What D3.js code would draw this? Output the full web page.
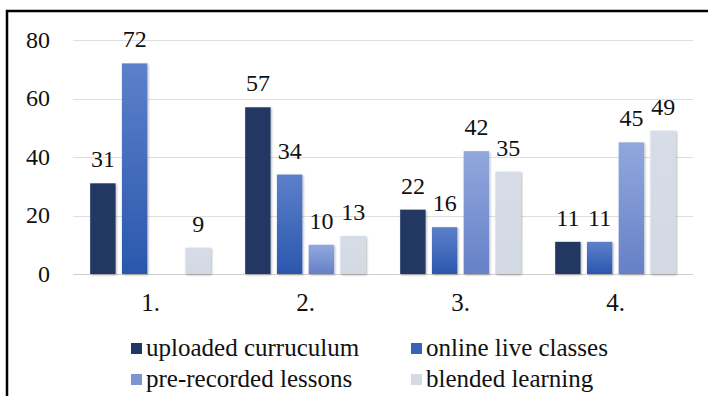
<!DOCTYPE html>
<html>
<head>
<meta charset="utf-8">
<script src="https://cdn.jsdelivr.net/npm/d3@7/dist/d3.min.js"></script>
<style>
  @font-face {
    font-family: "ChartSerif";
    src: local("Liberation Serif"), local("LiberationSerif"), local("LiberationSerif-Regular"), local("Times New Roman"), local("Tinos");
  }
</style>
</head>
<body style="margin:0;background:#fff">
<svg id="chart" width="708" height="396" style="display:block"></svg>
<script>
// Survey groups and the four delivery modes
const categories = ["1.", "2.", "3.", "4."];
const seriesNames = ["uploaded curruculum", "online live classes", "pre-recorded lessons", "blended learning"];
const uploaded = [31, 57, 22, 11];
const online = [72, 34, 16, 11];
const prerecorded = [null, 10, 42, 45];
const blended = [9, 13, 35, 49];
const yTicks = [0, 20, 40, 60, 80];

const seriesValues = [uploaded, online, prerecorded, blended];
const series = seriesNames.map((name, i) => ({ key: "s" + i, name, values: seriesValues[i] }));

const FONT = "'Liberation Serif', ChartSerif, 'Times New Roman', Tinos";
const svg = d3.select("#chart");
const W = 708, H = 396;
const plot = { left: 73, right: 693, top: 40, bottom: 274 };

// Shared text styling
function serif(sel, size) {
  return sel.style("font-family", FONT).style("font-size", size + "px").style("fill", "#111");
}

// Gradients and shadow
const defs = svg.append("defs");
const grads = [
  { id: "g0", top: "#203864", bottom: "#203864" },
  { id: "g1", top: "#5d80ca", bottom: "#2a57ad" },
  { id: "g2", top: "#91a8dd", bottom: "#6680c7" },
  { id: "g3", top: "#d7dde6", bottom: "#d3d9e3" }
];
grads.forEach(g => {
  const lg = defs.append("linearGradient").attr("id", g.id)
    .attr("x1", 0).attr("y1", 0).attr("x2", 0).attr("y2", 1);
  lg.append("stop").attr("offset", "0%").attr("stop-color", g.top);
  lg.append("stop").attr("offset", "100%").attr("stop-color", g.bottom);
});
const swatchColors = ["#203864", "#3a63b7", "#7b95d3", "#d5dbe4"];

const f = defs.append("filter").attr("id", "shadow")
  .attr("x", "-30%").attr("y", "-10%").attr("width", "160%").attr("height", "130%");
f.append("feDropShadow").attr("dx", 1).attr("dy", 1).attr("stdDeviation", 1.3)
  .attr("flood-color", "#000").attr("flood-opacity", 0.3);

// Frame lines
svg.append("line").attr("x1", 6).attr("x2", W).attr("y1", 11).attr("y2", 11)
  .attr("stroke", "#000").attr("stroke-width", 2.5);
svg.append("line").attr("x1", 7).attr("x2", 7).attr("y1", 10).attr("y2", H)
  .attr("stroke", "#000").attr("stroke-width", 2.5);

// Scales
const y = d3.scaleLinear().domain([0, 80]).range([plot.bottom, plot.top]);
const x0 = d3.scaleBand().domain(categories).range([plot.left, plot.right]).paddingInner(0).paddingOuter(0);
const x1 = d3.scaleBand().domain(series.map(s => s.key)).range([14, x0.bandwidth() - 14]).paddingInner(0.2).paddingOuter(0.1);

// Gridlines
svg.append("g").selectAll("line").data(yTicks).join("line")
  .attr("x1", plot.left).attr("x2", plot.right)
  .attr("y1", d => Math.round(y(d)) + 0.5).attr("y2", d => Math.round(y(d)) + 0.5)
  .attr("stroke", d => d === 0 ? "#d0d0d0" : "#dedede").attr("stroke-width", 1.2);

// Y tick labels
svg.append("g").selectAll("text").data(yTicks).join("text")
  .attr("x", 50).attr("y", d => y(d)).attr("dy", "0.32em").attr("text-anchor", "end")
  .call(serif, 24)
  .text(d => d);

// Bars and value labels
const groups = svg.append("g").selectAll("g").data(categories).join("g")
  .attr("transform", c => `translate(${x0(c)},0)`);

groups.each(function (c, ci) {
  const g = d3.select(this);
  series.forEach((s, si) => {
    const v = s.values[ci];
    if (v == null) return;
    g.append("rect")
      .attr("x", x1(s.key)).attr("width", x1.bandwidth())
      .attr("y", y(v)).attr("height", y(0) - y(v))
      .attr("fill", `url(#g${si})`).attr("filter", "url(#shadow)");
    g.append("text")
      .attr("x", x1(s.key) + x1.bandwidth() / 2).attr("y", y(v) - 16)
      .attr("text-anchor", "middle")
      .call(serif, 24)
      .text(v);
  });
});

// Category labels
svg.append("g").selectAll("text").data(categories).join("text")
  .attr("x", c => x0(c) + x0.bandwidth() / 2).attr("y", plot.bottom + 37)
  .attr("text-anchor", "middle")
  .call(serif, 25)
  .text(c => c);

// Legend
const legendPos = [
  { x: 131, y: 349 }, { x: 411, y: 349 },
  { x: 131, y: 380 }, { x: 411, y: 380 }
];
const lg = svg.append("g").selectAll("g").data(series).join("g")
  .attr("transform", (d, i) => `translate(${legendPos[i].x},${legendPos[i].y})`);
lg.append("rect").attr("x", 0).attr("y", -6).attr("width", 11).attr("height", 11)
  .attr("fill", (d, i) => swatchColors[i]);
lg.append("text").attr("x", 15).attr("y", 7)
  .call(serif, 25)
  .text(d => d.name);
</script>
</body>
</html>
